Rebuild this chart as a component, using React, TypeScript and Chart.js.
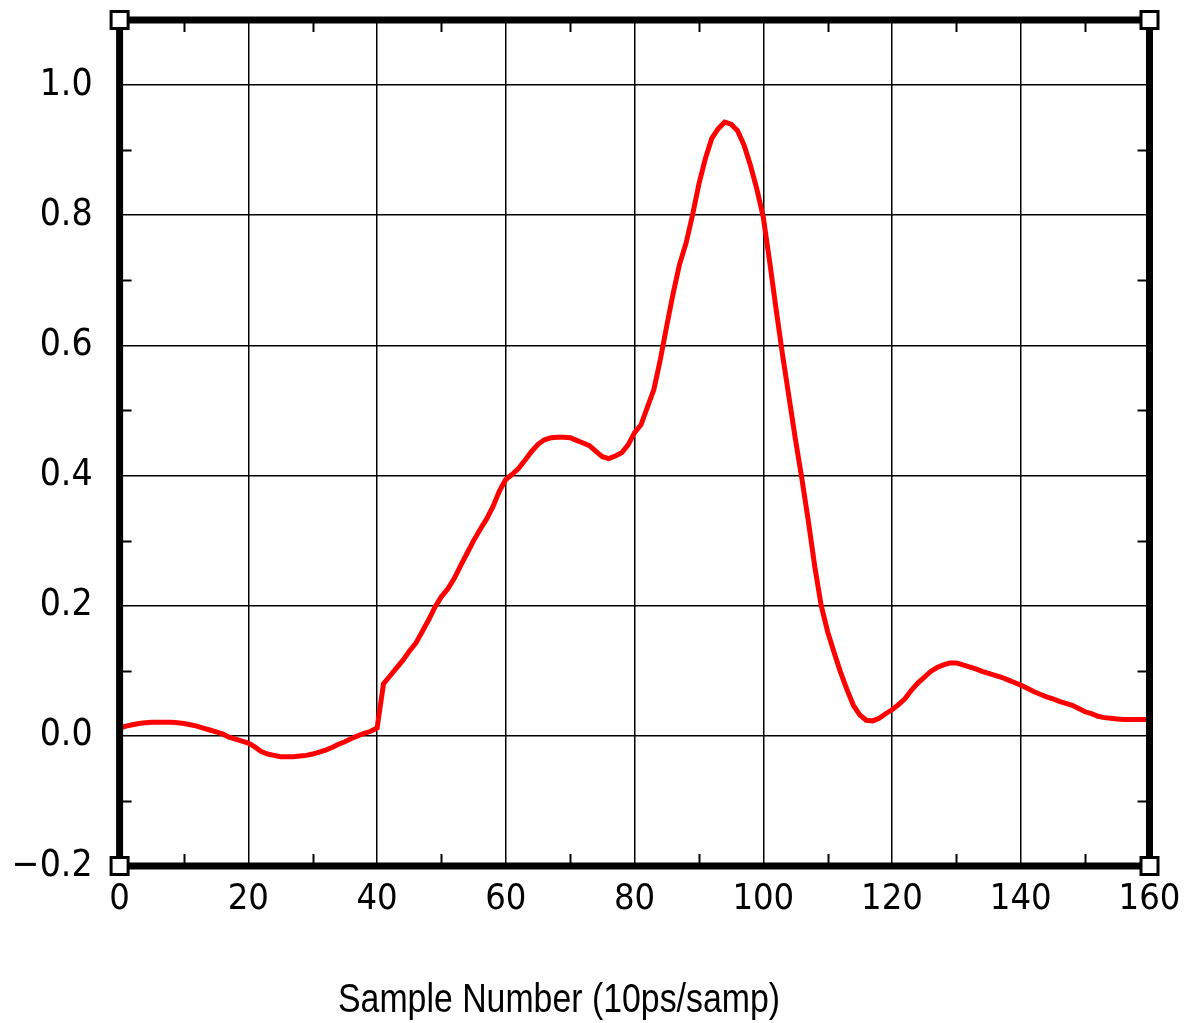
import { useEffect, useRef } from 'react';
import { Chart, registerables } from 'chart.js';

Chart.register(...registerables);

// Sample values, one per sample number 0..160
const sampleValues = [
  0.012, 0.015, 0.017, 0.019, 0.020, 0.021, 0.021, 0.021, 0.021, 0.020,
  0.019, 0.017, 0.015, 0.012, 0.009, 0.006, 0.003, -0.002, -0.005, -0.008,
  -0.011, -0.017, -0.024, -0.028, -0.030, -0.032, -0.032, -0.032, -0.031, -0.030,
  -0.028, -0.025, -0.022, -0.018, -0.013, -0.009, -0.004, 0.000, 0.004, 0.007,
  0.012, 0.080, 0.092, 0.104, 0.116, 0.130, 0.142, 0.160, 0.178, 0.198,
  0.214, 0.226, 0.242, 0.262, 0.281, 0.300, 0.317, 0.333, 0.352, 0.376,
  0.394, 0.402, 0.411, 0.424, 0.437, 0.448, 0.455, 0.458, 0.459, 0.459,
  0.458, 0.454, 0.450, 0.446, 0.437, 0.429, 0.426, 0.430, 0.435, 0.447,
  0.466, 0.478, 0.505, 0.532, 0.578, 0.630, 0.680, 0.725, 0.757, 0.800,
  0.848, 0.887, 0.918, 0.933, 0.943, 0.940, 0.930, 0.908, 0.877, 0.840,
  0.797, 0.728, 0.655, 0.585, 0.520, 0.455, 0.395, 0.330, 0.260, 0.200,
  0.160, 0.128, 0.098, 0.071, 0.047, 0.032, 0.024, 0.023, 0.027, 0.034,
  0.040, 0.048, 0.057, 0.070, 0.081, 0.090, 0.099, 0.105, 0.109, 0.112,
  0.112, 0.109, 0.106, 0.103, 0.099, 0.096, 0.093, 0.090, 0.086, 0.082,
  0.078, 0.073, 0.068, 0.064, 0.060, 0.057, 0.053, 0.050, 0.047, 0.042,
  0.037, 0.034, 0.030, 0.028, 0.027, 0.026, 0.025, 0.025, 0.025, 0.025,
  0.025,
];

const xMajorTicks = [0, 20, 40, 60, 80, 100, 120, 140, 160];
const xMinorTicks = [10, 30, 50, 70, 90, 110, 130, 150];
const yMajorTicks = [-0.2, 0.0, 0.2, 0.4, 0.6, 0.8, 1.0];
const yMinorTicks = [-0.1, 0.1, 0.3, 0.5, 0.7, 0.9];
const xAxisTitle = 'Sample Number (10ps/samp)';

const TICK_FONT = '"DejaVu Sans Condensed", "DejaVu Sans", sans-serif';
const TITLE_FONT = '"Liberation Sans", Arial, sans-serif';

const framePlugin = {
  id: 'frame',
  afterDatasetsDraw(chart: any) {
    const { ctx, chartArea, scales } = chart;
    const { left, top, right, bottom } = chartArea;
    const xs = scales.x;
    const ys = scales.y;
    ctx.save();
    ctx.strokeStyle = '#000';
    ctx.lineWidth = 2;
    ctx.beginPath();
    for (const v of xMinorTicks) {
      const px = Math.round(xs.getPixelForValue(v)) + 0.5;
      ctx.moveTo(px, top);
      ctx.lineTo(px, top + 12);
      ctx.moveTo(px, bottom);
      ctx.lineTo(px, bottom - 12);
    }
    for (const v of yMinorTicks) {
      const py = Math.round(ys.getPixelForValue(v)) + 0.5;
      ctx.moveTo(left, py);
      ctx.lineTo(left + 12, py);
      ctx.moveTo(right, py);
      ctx.lineTo(right - 12, py);
    }
    ctx.stroke();
    ctx.lineWidth = 7;
    ctx.lineJoin = 'miter';
    ctx.strokeRect(left, top, right - left, bottom - top);
    const corners = [
      [left, top],
      [right, top],
      [left, bottom],
      [right, bottom],
    ];
    for (const [cx, cy] of corners) {
      ctx.fillStyle = '#000';
      ctx.fillRect(cx - 10, cy - 10, 20, 20);
      ctx.fillStyle = '#fff';
      ctx.fillRect(cx - 7, cy - 7, 14, 14);
    }
    ctx.restore();
  },
  afterDraw(chart: any) {
    const { ctx } = chart;
    ctx.save();
    ctx.fillStyle = '#000';
    ctx.font = `41px ${TITLE_FONT}`;
    ctx.textAlign = 'center';
    ctx.textBaseline = 'alphabetic';
    const w = ctx.measureText(xAxisTitle).width;
    const sx = w > 0 ? 442 / w : 1;
    ctx.translate(559, 1012);
    ctx.scale(sx, 1);
    ctx.fillText(xAxisTitle, 0, 0);
    ctx.restore();
  },
};

export default function App() {
  const canvasRef = useRef<HTMLCanvasElement | null>(null);

  useEffect(() => {
    const canvas = canvasRef.current;
    if (!canvas) return;
    const points = sampleValues.map((v, i) => ({ x: i, y: v }));
    const chart = new Chart(canvas, {
      type: 'line',
      data: {
        datasets: [
          {
            data: points,
            borderColor: '#ff0000',
            borderWidth: 5,
            pointRadius: 0,
            tension: 0,
            fill: false,
          },
        ],
      },
      options: {
        animation: false,
        responsive: false,
        events: [],
        layout: { padding: { top: 20, left: 0, right: 38.5, bottom: 0 } },
        plugins: {
          legend: { display: false },
          tooltip: { enabled: false },
          title: { display: false },
        },
        scales: {
          x: {
            type: 'linear',
            min: 0,
            max: 160,
            afterBuildTicks: (scale: any) => {
              scale.ticks = xMajorTicks.map((v) => ({ value: v }));
            },
            afterFit: (scale: any) => {
              scale.height = 157;
              scale.paddingLeft = 0;
              scale.paddingRight = 0;
            },
            grid: {
              color: '#000',
              lineWidth: 1.5,
              drawTicks: false,
            },
            border: { display: false },
            ticks: {
              color: '#000',
              padding: 12,
              maxRotation: 0,
              autoSkip: false,
              font: { family: TICK_FONT, size: 36 },
              callback: (v: any) => String(v),
            },
          },
          y: {
            type: 'linear',
            min: -0.2,
            max: 1.1,
            afterBuildTicks: (scale: any) => {
              scale.ticks = yMajorTicks.map((v) => ({ value: v }));
            },
            afterFit: (scale: any) => {
              scale.width = 119.6;
              scale.paddingTop = 0;
              scale.paddingBottom = 0;
            },
            grid: {
              color: '#000',
              lineWidth: 1.5,
              drawTicks: false,
            },
            border: { display: false },
            ticks: {
              color: '#000',
              padding: 27,
              autoSkip: false,
              font: { family: TICK_FONT, size: 37 },
              callback: (v: any) => {
                const n = Number(v);
                const s = Math.abs(n).toFixed(1);
                return n < -1e-9 ? '\u2212' + s : s;
              },
            },
          },
        },
      },
      plugins: [framePlugin],
    });
    return () => chart.destroy();
  }, []);

  return (
    <div style={{ position: 'absolute', left: 0, top: 0, width: 1188, height: 1023, background: '#fff' }}>
      <canvas ref={canvasRef} width={1188} height={1023} />
    </div>
  );
}
